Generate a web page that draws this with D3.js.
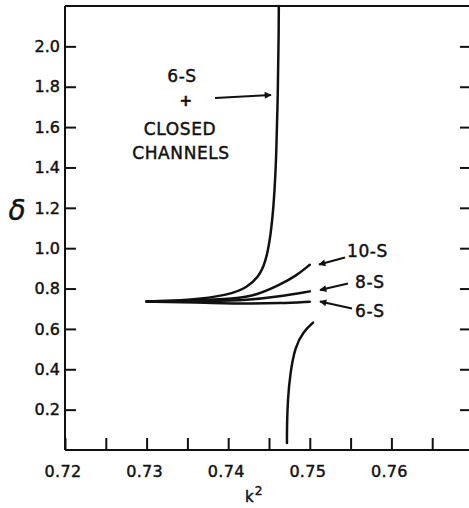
<!DOCTYPE html>
<html>
<head>
<meta charset="utf-8">
<script src="https://cdn.jsdelivr.net/npm/d3@7/dist/d3.min.js"></script>
<style>
  html, body { margin: 0; padding: 0; background: #fff; }
  svg { display: block; }
  text { font-family: "DejaVu Sans", "Liberation Sans", sans-serif; fill: #111; stroke: #111; stroke-width: 0.45px; }
</style>
</head>
<body>
<div id="chart"></div>
<script>
// ---- data ----
const xTickValues = [0.72, 0.725, 0.73, 0.735, 0.74, 0.745, 0.75, 0.755, 0.76, 0.765];
const xTickLabels = ["0.72", "0.73", "0.74", "0.75", "0.76"];
const yTickValues = [0.2, 0.4, 0.6, 0.8, 1.0, 1.2, 1.4, 1.6, 1.8, 2.0];
const yTickLabels = ["0.2", "0.4", "0.6", "0.8", "1.0", "1.2", "1.4", "1.6", "1.8", "2.0"];

// 6-S + closed channels, upper branch (x = k^2, y = delta)
const closedUpperK = [0.7300, 0.7350, 0.7402, 0.7423, 0.7437, 0.7446, 0.7452, 0.7456, 0.7459, 0.7461, 0.7462, 0.7462];
const closedUpperD = [0.736, 0.741, 0.768, 0.806, 0.855, 0.930, 1.060, 1.220, 1.450, 1.800, 2.100, 2.200];
// 6-S + closed channels, lower branch
const closedLowerK = [0.7472, 0.7472, 0.7473, 0.7476, 0.7482, 0.7492, 0.7504];
const closedLowerD = [0.035, 0.120, 0.250, 0.381, 0.512, 0.586, 0.631];
// 10-S
const s10K = [0.7300, 0.7350, 0.7410, 0.7435, 0.7463, 0.7483, 0.7500];
const s10D = [0.736, 0.740, 0.749, 0.768, 0.818, 0.862, 0.918];
// 8-S
const s8K = [0.7300, 0.7380, 0.7423, 0.7463, 0.7500];
const s8D = [0.736, 0.738, 0.742, 0.760, 0.786];
// 6-S
const s6K = [0.7300, 0.7360, 0.7423, 0.7463, 0.7500];
const s6D = [0.736, 0.731, 0.724, 0.727, 0.735];

// ---- layout ----
const W = 469, H = 508;
const svg = d3.select("#chart").append("svg").attr("width", W).attr("height", H);

const x = d3.scaleLinear().domain([0.72, 0.77]).range([65, 473]);
const y = d3.scaleLinear().domain([0, 2.2]).range([450, 6]);

const ink = "#111";

// frame
const frame = svg.append("g").attr("stroke", ink).attr("stroke-width", 2).attr("fill", "none");
frame.append("line").attr("x1", x(0.72)).attr("x2", x(0.77)).attr("y1", y(0)).attr("y2", y(0));
frame.append("line").attr("x1", x(0.72)).attr("x2", x(0.77)).attr("y1", y(2.2)).attr("y2", y(2.2));
frame.append("line").attr("x1", x(0.72)).attr("x2", x(0.72)).attr("y1", y(0)).attr("y2", y(2.2));
frame.append("line").attr("x1", x(0.77)).attr("x2", x(0.77)).attr("y1", y(0)).attr("y2", y(2.2));

// bottom axis (inward ticks)
const xAxis = d3.axisTop(x).tickValues(xTickValues).tickSize(12).tickFormat("");
const gx = svg.append("g").attr("transform", `translate(0,${y(0)})`).call(xAxis);
gx.select(".domain").remove();
gx.selectAll(".tick line").attr("stroke", ink).attr("stroke-width", 2);

svg.append("g").selectAll("text").data(xTickLabels).join("text")
  .attr("x", d => x(+d) - 2)
  .attr("y", 477)
  .attr("text-anchor", "middle")
  .attr("font-size", 16)
  .attr("letter-spacing", 0.3)
  .text(d => d);

// left axis (inward ticks)
const yAxisL = d3.axisRight(y).tickValues(yTickValues).tickSize(11).tickFormat("");
const gyl = svg.append("g").attr("transform", `translate(${x(0.72)},0)`).call(yAxisL);
gyl.select(".domain").remove();
gyl.selectAll(".tick line").attr("stroke", ink).attr("stroke-width", 2);

svg.append("g").selectAll("text").data(yTickLabels).join("text")
  .attr("x", 60)
  .attr("y", d => y(+d))
  .attr("dy", "0.36em")
  .attr("text-anchor", "end")
  .attr("font-size", 16)
  .text(d => d);

// right axis (inward ticks)
const yAxisR = d3.axisLeft(y).tickValues(yTickValues).tickSize(13).tickFormat("");
const gyr = svg.append("g").attr("transform", `translate(${x(0.77)},0)`).call(yAxisR);
gyr.select(".domain").remove();
gyr.selectAll(".tick line").attr("stroke", ink).attr("stroke-width", 2);

// curves
const curveData = [
  d3.zip(closedUpperK, closedUpperD),
  d3.zip(closedLowerK, closedLowerD),
  d3.zip(s10K, s10D),
  d3.zip(s8K, s8D),
  d3.zip(s6K, s6D)
];
const line = d3.line().x(d => x(d[0])).y(d => y(d[1])).curve(d3.curveBasis);
svg.append("g").selectAll("path").data(curveData).join("path")
  .attr("d", line)
  .attr("fill", "none")
  .attr("stroke", ink)
  .attr("stroke-width", 2.5)
  .attr("stroke-linecap", "round");

// arrow marker
svg.append("defs").append("marker")
  .attr("id", "arrow").attr("viewBox", "0 0 10 10")
  .attr("refX", 9).attr("refY", 5)
  .attr("markerWidth", 9).attr("markerHeight", 7)
  .attr("markerUnits", "userSpaceOnUse")
  .attr("orient", "auto")
  .append("path").attr("d", "M0,0 L10,5 L0,10 Z").attr("fill", ink);

function arrow(x1, y1, x2, y2) {
  svg.append("line")
    .attr("x1", x1).attr("y1", y1).attr("x2", x2).attr("y2", y2)
    .attr("stroke", ink).attr("stroke-width", 2)
    .attr("marker-end", "url(#arrow)");
}

// annotations
const ann = svg.append("g").attr("font-size", 17).attr("letter-spacing", 0.6);
ann.append("text").attr("x", 182).attr("y", 82).attr("text-anchor", "middle").text("6-S");
ann.append("text").attr("x", 186).attr("y", 106).attr("text-anchor", "middle")
  .attr("font-size", 15).attr("font-weight", "bold").text("+");
ann.append("text").attr("x", 180).attr("y", 135).attr("text-anchor", "middle").text("CLOSED");
ann.append("text").attr("x", 181).attr("y", 159).attr("text-anchor", "middle").text("CHANNELS");
arrow(215, 98, 271, 95);

ann.append("text").attr("x", 347).attr("y", 257).text("10-S");
arrow(345, 257.5, 319, 264.5);
ann.append("text").attr("x", 355).attr("y", 288).text("8-S");
arrow(348, 283.5, 320, 290);
ann.append("text").attr("x", 355).attr("y", 317).text("6-S");
arrow(352, 308.5, 320, 301.5);

// axis titles
svg.append("text").attr("x", 17).attr("y", 220).attr("text-anchor", "middle")
  .attr("font-family", "DejaVu Serif").attr("font-style", "italic").attr("font-size", 28)
  .text("δ");
const kt = svg.append("text").attr("x", 245).attr("y", 502).attr("font-size", 15);
kt.append("tspan").text("k");
kt.append("tspan").attr("font-size", 12).attr("dy", -7).attr("dx", 1).text("2");
</script>
</body>
</html>
